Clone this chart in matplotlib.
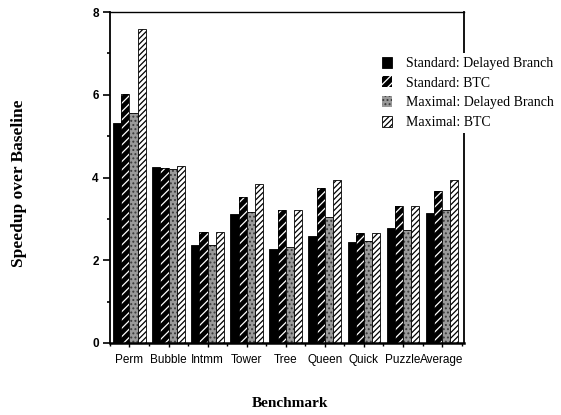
import numpy as np
import matplotlib
matplotlib.use("Agg")
import matplotlib.pyplot as plt
from matplotlib.ticker import MultipleLocator

plt.rcParams["hatch.linewidth"] = 0.9

benchmarks = ["Perm", "Bubble", "Intmm", "Tower", "Tree", "Queen", "Quick", "Puzzle", "Average"]
std_delayed = [5.31, 4.25, 2.38, 3.12, 2.27, 2.58, 2.43, 2.79, 3.15]
std_btc = [6.02, 4.24, 2.68, 3.53, 3.22, 3.75, 2.67, 3.32, 3.67]
max_delayed = [5.55, 4.21, 2.37, 3.17, 2.33, 3.05, 2.47, 2.73, 3.22]
max_btc = [7.58, 4.27, 2.68, 3.84, 3.22, 3.93, 2.67, 3.32, 3.93]

labels = ["Standard: Delayed Branch", "Standard: BTC",
          "Maximal: Delayed Branch", "Maximal: BTC"]

fig = plt.figure(figsize=(5.61, 4.15), dpi=100)
ax = fig.add_axes([0.196, 0.1735, 0.631, 0.7975])

x = np.arange(len(benchmarks))
w = 0.21
offs = np.array([-1.5, -0.5, 0.5, 1.5]) * w

h1 = ax.bar(x + offs[0], std_delayed, w, color="black", edgecolor="black", linewidth=0.6,
            label=labels[0])
h2 = ax.bar(x + offs[1], std_btc, w, color="black", edgecolor="white", hatch="////",
            linewidth=0, label=labels[1])
ax.bar(x + offs[1], std_btc, w, fill=False, edgecolor="black", linewidth=0.6)
h3 = ax.bar(x + offs[2], max_delayed, w, color="#9a9a9a", edgecolor="#3a3a3a", hatch="....",
            linewidth=0, label=labels[2])
ax.bar(x + offs[2], max_delayed, w, fill=False, edgecolor="black", linewidth=0.6)
h4 = ax.bar(x + offs[3], max_btc, w, color="white", edgecolor="black", hatch="//////",
            linewidth=0.6, label=labels[3])

ax.set_xlim(-0.42, 8.56)
ax.set_ylim(0, 8)
ax.set_xticks(x)
ax.set_xticklabels(benchmarks, fontfamily="Liberation Sans", fontsize=8.5)
ax.set_xticks(np.arange(len(benchmarks) + 1) - 0.5, minor=True)
ax.yaxis.set_major_locator(MultipleLocator(2))
ax.yaxis.set_minor_locator(MultipleLocator(1))
for t in ax.get_yticklabels():
    t.set_fontfamily("Liberation Sans")
    t.set_fontweight("bold")
    t.set_fontsize(8.5)
ax.tick_params(axis="y", which="major", direction="out", length=5, width=1.2, pad=3)
ax.tick_params(axis="y", which="minor", direction="out", length=2, width=1.2)
ax.tick_params(axis="x", which="major", direction="out", length=3, width=1, pad=5)
ax.tick_params(axis="x", which="minor", direction="out", length=2, width=1)

ax.spines["left"].set_linewidth(1.3)
ax.spines["bottom"].set_linewidth(1.8)
ax.spines["right"].set_linewidth(1.3)
ax.spines["top"].set_linewidth(1.0)

fig.text(0.034, 0.559, "Speedup over Baseline", rotation=90, ha="center", va="center",
         fontfamily="Liberation Serif", fontweight="bold", fontsize=12.5)
fig.text(0.517, 0.027, "Benchmark", ha="center", va="center",
         fontfamily="Liberation Serif", fontweight="bold", fontsize=11)

leg = fig.legend(handles=[h1, h2, h3, h4], labels=labels, loc="upper left",
                 bbox_to_anchor=(0.662, 0.89), frameon=True, fancybox=False,
                 edgecolor="none", facecolor="white", framealpha=1,
                 prop={"family": "Liberation Serif", "size": 10},
                 handlelength=0.7, handleheight=0.85, handletextpad=1.0,
                 labelspacing=0.45, borderpad=0.3)

fig.savefig("out.png", dpi=100)
